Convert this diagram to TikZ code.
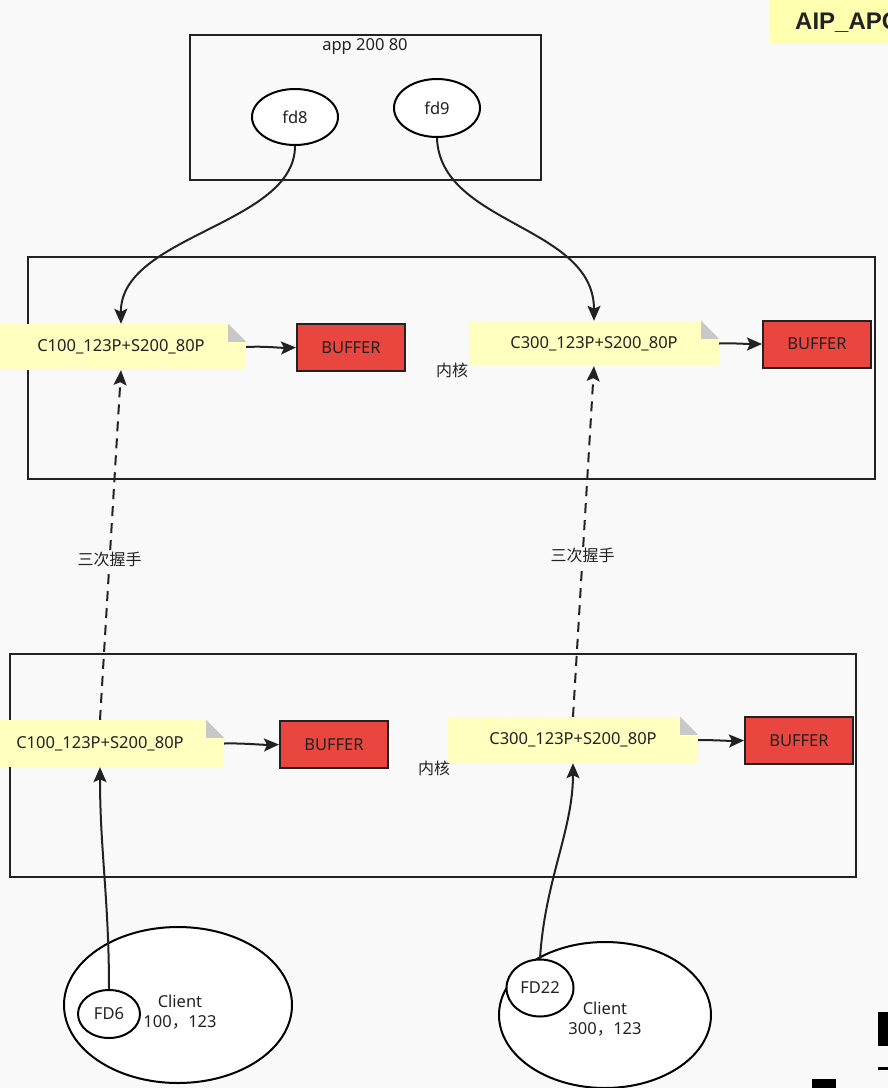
\documentclass[tikz,border=0pt]{standalone}
\usepackage{fontspec}
\setmainfont{Noto Sans}
\newfontfamily\cjk{Noto Sans CJK SC}
\newfontfamily\tagfont{Liberation Sans}
\usetikzlibrary{shapes.geometric,arrows.meta}
\definecolor{bg}{HTML}{F9F9F9}
\definecolor{noteY}{HTML}{FFFFC0}
\definecolor{tagY}{HTML}{FFFFB0}
\definecolor{bufR}{HTML}{E9463F}
\definecolor{foldG}{HTML}{C8C8C8}
\definecolor{ink}{HTML}{222222}
\newcommand\myfold[1]{%
  \fill[bg] (#1.north east) -- ++(-18,0) -- ++(18,18) -- cycle;
  \fill[foldG] (#1.north east) ++(-18,0) -- ++(0,18) -- ++(18,0) -- cycle;}
\begin{document}
\begin{tikzpicture}[x=1pt,y=-1pt, font=\fontsize{16.5}{20}\selectfont, text=ink,
  box/.style={draw=ink, line width=2pt},
  fdell/.style={ellipse, draw=black, line width=2pt, fill=white, inner sep=0pt},
  buf/.style={rectangle, draw=ink, line width=2pt, fill=bufR, minimum width=108pt, minimum height=47pt, inner sep=0pt},
  note/.style={rectangle, fill=noteY, inner sep=0pt},
  conn/.style={draw=ink, line width=2pt, -{Stealth[length=15pt,width=13pt,inset=3pt]}},
  dconn/.style={conn, dash pattern=on 10pt off 7pt},
  hand/.style={fill=bg, inner sep=1pt, font=\cjk\fontsize{16}{19}\selectfont}
]
\useasboundingbox (0,0) rectangle (888,1088);
\fill[bg] (0,0) rectangle (888,1088);
\begin{scope}
\clip (0,0) rectangle (888,1088);

% app box
\draw[box] (190,35) rectangle (541,180);
\node[inner sep=0pt] (app) at (365,46) {app 200 80};
\node[fdell, minimum width=86pt, minimum height=56pt] (fd8) at (295,117) {fd8};
\node[fdell, minimum width=86pt, minimum height=58pt] (fd9) at (437,108) {fd9};

% kernel boxes
\draw[box] (28,257) rectangle (875,479);
\draw[box] (10,654) rectangle (856,877);
\node[inner sep=0pt, font=\cjk\fontsize{16}{19}\selectfont] (k1) at (452,370) {内核};
\node[inner sep=0pt, font=\cjk\fontsize{16}{19}\selectfont] (k2) at (434,768) {内核};

% upper notes and buffers
\node[note, minimum width=250pt, minimum height=46pt] (n1) at (121,347) {C100\_123P+S200\_80P};
\myfold{n1}
\node[buf] (b1) at (351,347.5) {BUFFER};
\node[note, minimum width=250pt, minimum height=45pt] (n2) at (594,343.5) {C300\_123P+S200\_80P};
\myfold{n2}
\node[buf] (b2) at (817,344) {BUFFER};

% lower notes and buffers
\node[note, minimum width=248pt, minimum height=47pt] (m1) at (100,743.5) {C100\_123P+S200\_80P};
\myfold{m1}
\node[buf] (b3) at (334,744.5) {BUFFER};
\node[note, minimum width=250pt, minimum height=46pt] (m2) at (573,740) {C300\_123P+S200\_80P};
\myfold{m2}
\node[buf] (b4) at (799,740.5) {BUFFER};

% clients
\node[ellipse, draw=black, line width=2pt, fill=white, minimum width=228pt, minimum height=156pt, inner sep=0pt] (c1) at (178,1005) {};
\node[inner sep=0pt, align=center, font=\fontsize{16.5}{20}\selectfont] (c1t) at (180,1012) {Client\\100{\cjk，}123};
\node[fdell, minimum width=62pt, minimum height=48pt] (fd6) at (109,1014) {FD6};
\node[ellipse, draw=black, line width=2pt, fill=white, minimum width=212pt, minimum height=146pt, inner sep=0pt] (c2) at (605,1015) {};
\node[inner sep=0pt, align=center, font=\fontsize{16.5}{20}\selectfont] (c2t) at (605,1019) {Client\\300{\cjk，}123};
\node[fdell, minimum width=67pt, minimum height=57pt] (fd22) at (540,988) {FD22};

% connectors
\draw[conn] (fd8.south) .. controls (295,225) and (120,235) .. (n1.north);
\draw[conn] (fd9.south) .. controls (440,225) and (594,225) .. (n2.north);
\draw[conn] (n1.east) .. controls (265,346) and (280,348) .. (b1.west);
\draw[conn] (n2.east) .. controls (735,343) and (745,344) .. (b2.west);
\draw[conn] (m1.east) .. controls (243,743) and (262,745) .. (b3.west);
\draw[conn] (m2.east) .. controls (715,740) and (728,741) .. (b4.west);
\draw[dconn] (m1.north) -- node[hand, pos=0.46] {三次握手} (n1.south);
\draw[dconn] (m2.north) -- node[hand, pos=0.46] {三次握手} (n2.south);
\draw[conn] (fd6.north) .. controls (109,900) and (100,850) .. (m1.south);
\draw[conn] (fd22.north) .. controls (545,880) and (573,830) .. (m2.south);

% tag top right
\fill[tagY] (770,0) rectangle (888,44);
\node[anchor=base west, inner sep=0pt, font=\tagfont\bfseries\fontsize{24}{28}\selectfont] (tag) at (795,29) {AIP\_APC};

% edge artefacts
\fill[black] (878,1012) rectangle (888,1046);
\fill[black] (878,1067) rectangle (888,1070);
\fill[black] (812,1079) rectangle (836,1088);
\end{scope}
\end{tikzpicture}
\end{document}
